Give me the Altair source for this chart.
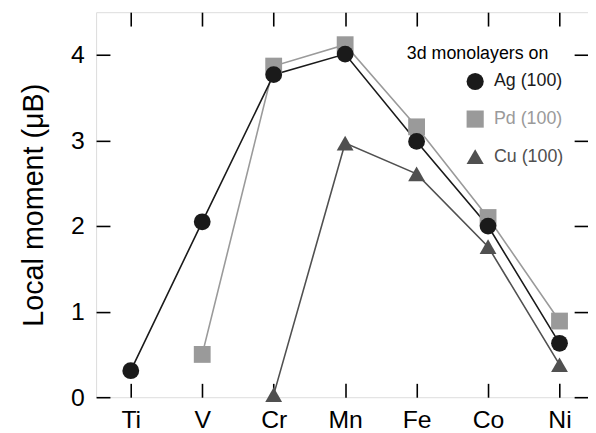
import altair as alt
import pandas as pd

elements = ["Ti", "V", "Cr", "Mn", "Fe", "Co", "Ni"]
series_names = ["Ag (100)", "Pd (100)", "Cu (100)"]
ag_x = ["Ti", "V", "Cr", "Mn", "Fe", "Co", "Ni"]
ag_y = [0.31, 2.05, 3.77, 4.01, 2.99, 2.00, 0.63]
pd_x = ["V", "Cr", "Mn", "Fe", "Co", "Ni"]
pd_y = [0.50, 3.87, 4.12, 3.16, 2.10, 0.89]
cu_x = ["Cr", "Mn", "Fe", "Co", "Ni"]
cu_y = [0.03, 2.97, 2.61, 1.76, 0.38]
y_ticks = [0, 1, 2, 3, 4]
colors = ["#1a1a1a", "#9a9a9a", "#505050"]
shapes = ["circle", "square", "triangle-up"]

rows = []
for name, xs, ys in [("Cu (100)", cu_x, cu_y), ("Pd (100)", pd_x, pd_y), ("Ag (100)", ag_x, ag_y)]:
    for x, y in zip(xs, ys):
        rows.append({"el": x, "idx": elements.index(x), "m": y, "s": name})
df = pd.DataFrame(rows)

FONT = "Liberation Sans"
xscale = alt.Scale(type="point", domain=elements, padding=0.442, align=0.549)
yscale = alt.Scale(domain=[0, 4.5], nice=False, zero=True)
cscale = alt.Scale(domain=series_names, range=colors)
sscale = alt.Scale(domain=series_names, range=shapes)
# line colours: same mapping, listed in reverse so it stays a separate (hidden) legend
stroke_scale = alt.Scale(domain=series_names[::-1], range=colors[::-1])

common_axis = dict(domain=False, grid=False, tickColor="black", tickWidth=1.6,
                   tickSize=14, offset=-14, labelColor="black", labelFont=FONT)

x_bottom = alt.X("el:N", sort=elements, scale=xscale,
                 axis=alt.Axis(orient="bottom", title=None, labelFontSize=25,
                               labelPadding=11, labelAngle=0, **common_axis))
y_left = alt.Y("m:Q", scale=yscale,
               axis=alt.Axis(orient="left", values=y_ticks, title="Local moment (μB)",
                             titleFontSize=29, titleFontWeight="normal", titleFont=FONT,
                             titleColor="black", titlePadding=22, labelFontSize=25,
                             labelPadding=12, **common_axis))
x_top = alt.X("el:N", sort=elements, scale=xscale,
              axis=alt.Axis(orient="top", title=None, labels=False, **common_axis))
y_right = alt.Y("m:Q", scale=yscale,
                axis=alt.Axis(orient="right", title=None, labels=False, values=y_ticks,
                              **common_axis))

lines = alt.Chart(df).mark_line(strokeWidth=1.6).encode(
    x=x_bottom,
    y=y_left,
    stroke=alt.Stroke("s:N", scale=stroke_scale, legend=None),
    order=alt.Order("idx:Q"),
)

legend = alt.Legend(
    title="3d monolayers on", orient="none", legendX=314, legendY=33,
    titleFontSize=18, titleFontWeight="normal", titleColor="black", titleFont=FONT,
    labelFontSize=18, labelFont=FONT,
    labelColor=alt.ExprRef("scale('color', datum.value)"),
    symbolSize=300, symbolOffset=60, labelOffset=10, rowPadding=20,
    titlePadding=10, padding=0, symbolStrokeWidth=0, symbolOpacity=1,
)

points = alt.Chart(df).mark_point(filled=True, size=289, opacity=1).encode(
    x=x_top,
    y=y_right,
    color=alt.Color("s:N", scale=cscale, legend=legend),
    shape=alt.Shape("s:N", scale=sscale, legend=legend),
)

chart = alt.layer(lines, points).properties(
    width=497, height=389,
    autosize=alt.AutoSizeParams(type="none"),
    padding={"left": 89, "top": 2, "right": 0, "bottom": 40},
).configure_view(stroke="black", strokeWidth=1.6).configure(background="white")

chart.save("out.html", embed_options={"renderer": "svg", "actions": False})
